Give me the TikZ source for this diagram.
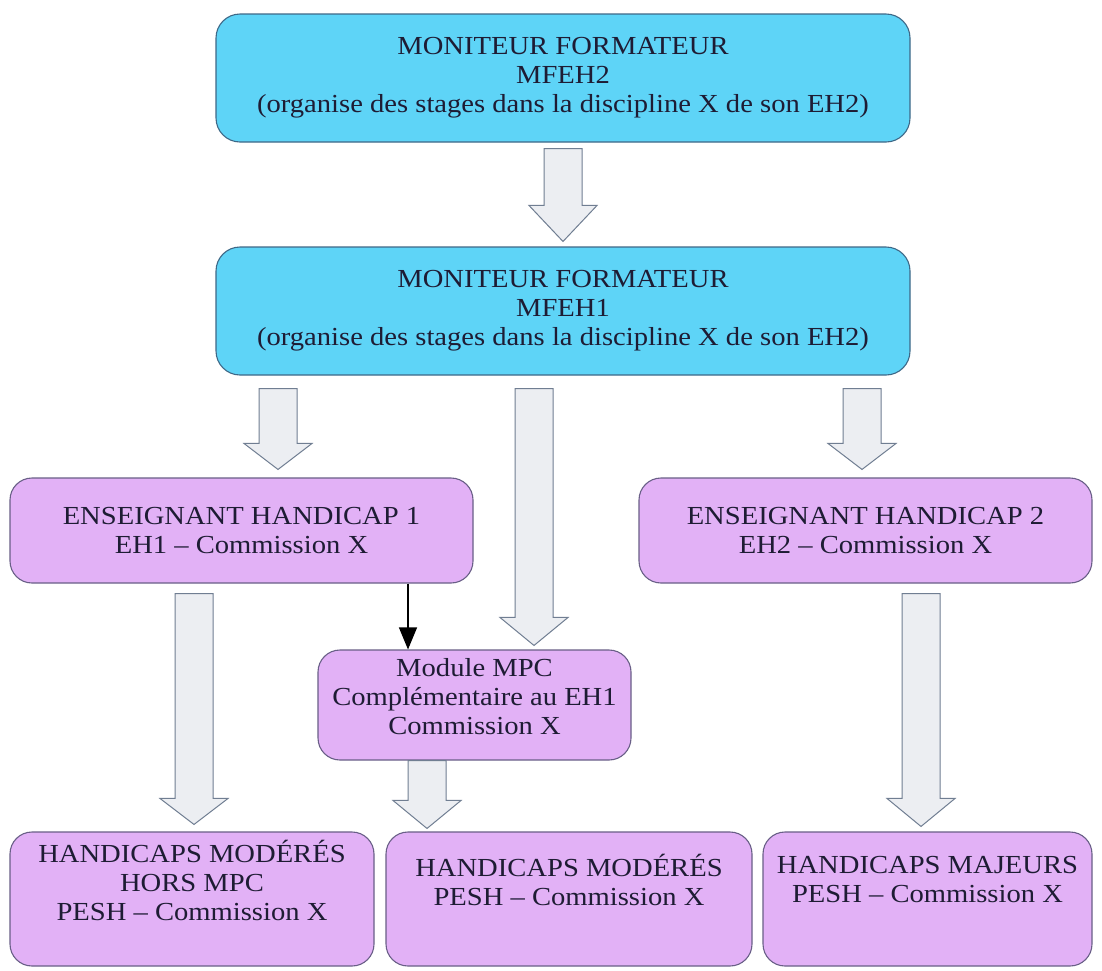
\documentclass[tikz,border=0pt]{standalone}
\usepackage{fontspec}
\setmainfont{Liberation Serif}[FakeStretch=1.1]
\usetikzlibrary{arrows.meta,calc}
\definecolor{cyanfill}{RGB}{94,212,247}
\definecolor{cyanedge}{RGB}{62,104,135}
\definecolor{purplefill}{RGB}{226,177,246}
\definecolor{purpleedge}{RGB}{105,95,135}
\definecolor{arrfill}{RGB}{236,238,242}
\definecolor{arredge}{RGB}{112,126,146}
\definecolor{txt}{RGB}{30,28,52}
\newcommand\blockarr[6]{% #1 x, #2 from, #3 to, #4 start gap, #5 tip gap, #6 head length
  \path[barrow] let \p1=(#2.south), \p2=(#3.north) in
    (#1pt-19pt,\y1-#4pt) -- (#1pt+19pt,\y1-#4pt) -- (#1pt+19pt,\y2+#5pt+#6pt)
    -- (#1pt+34pt,\y2+#5pt+#6pt) -- (#1pt,\y2+#5pt) -- (#1pt-34pt,\y2+#5pt+#6pt)
    -- (#1pt-19pt,\y2+#5pt+#6pt) -- cycle;}
\begin{document}
\begin{tikzpicture}[x=1pt,y=-1pt,
  every node/.style={font=\fontsize{26}{29}\selectfont, text=txt, align=center},
  cbox/.style={draw=cyanedge, fill=cyanfill, rounded corners=24pt, line width=1.1pt,
    minimum width=694pt, minimum height=128pt, inner sep=0pt},
  pbox/.style={draw=purpleedge, fill=purplefill, rounded corners=22pt, line width=1.1pt,
    inner sep=0pt},
  boxtext/.style={inner sep=0pt},
  barrow/.style={draw=arredge, fill=arrfill, line width=1pt, line join=miter},
  thinarrow/.style={draw=black, line width=1.1pt, -{Triangle[length=22pt,width=18pt]}}]
\useasboundingbox (0,0) rectangle (1102,970);
\fill[white] (0,0) rectangle (1102,970);

\node[cbox] (top) at (563,78) {MONITEUR FORMATEUR\\MFEH2\\(organise des stages dans la discipline X de son EH2)};
\node[cbox] (mid) at (563,311) {MONITEUR FORMATEUR\\MFEH1\\(organise des stages dans la discipline X de son EH2)};

\node[pbox, minimum width=463pt, minimum height=105pt] (eh1) at (241.5,530.5) {ENSEIGNANT HANDICAP 1\\EH1 -- Commission X};
\node[pbox, minimum width=453pt, minimum height=105pt] (eh2) at (865.5,530.5) {ENSEIGNANT HANDICAP 2\\EH2 -- Commission X};

\node[pbox, minimum width=313pt, minimum height=110pt] (mpc) at (474.5,705) {};
\node[boxtext] (mpct) at (474.5,697) {Module MPC\\Complémentaire au EH1\\Commission X};

\node[pbox, minimum width=364pt, minimum height=134pt] (bl) at (192,899) {};
\node[pbox, minimum width=366pt, minimum height=134pt] (bm) at (569,899) {};
\node[pbox, minimum width=329pt, minimum height=134pt] (br) at (927.5,899) {};
\node[boxtext] (blt) at (192,880) {HANDICAPS MODÉRÉS\\HORS MPC\\PESH -- Commission X};
\node[boxtext] (bmt) at (569,880) {HANDICAPS MODÉRÉS\\PESH -- Commission X};
\node[boxtext] (brt) at (927.5,880) {HANDICAPS MAJEURS\\PESH -- Commission X};

\blockarr{563}{top}{mid}{6}{5}{36}
\blockarr{278}{mid}{eh1}{13}{8}{26}
\blockarr{534}{mid}{mpc}{13}{4}{28}
\blockarr{862}{mid}{eh2}{13}{8}{26}
\blockarr{194}{eh1}{bl}{10}{7}{26}
\blockarr{427}{mpc}{bm}{0}{3}{28}
\blockarr{921}{eh2}{br}{10}{5}{28}

\coordinate (tx) at (408,0);
\draw[thinarrow] (eh1.south -| tx) -- (mpc.north -| tx);
\end{tikzpicture}
\end{document}
